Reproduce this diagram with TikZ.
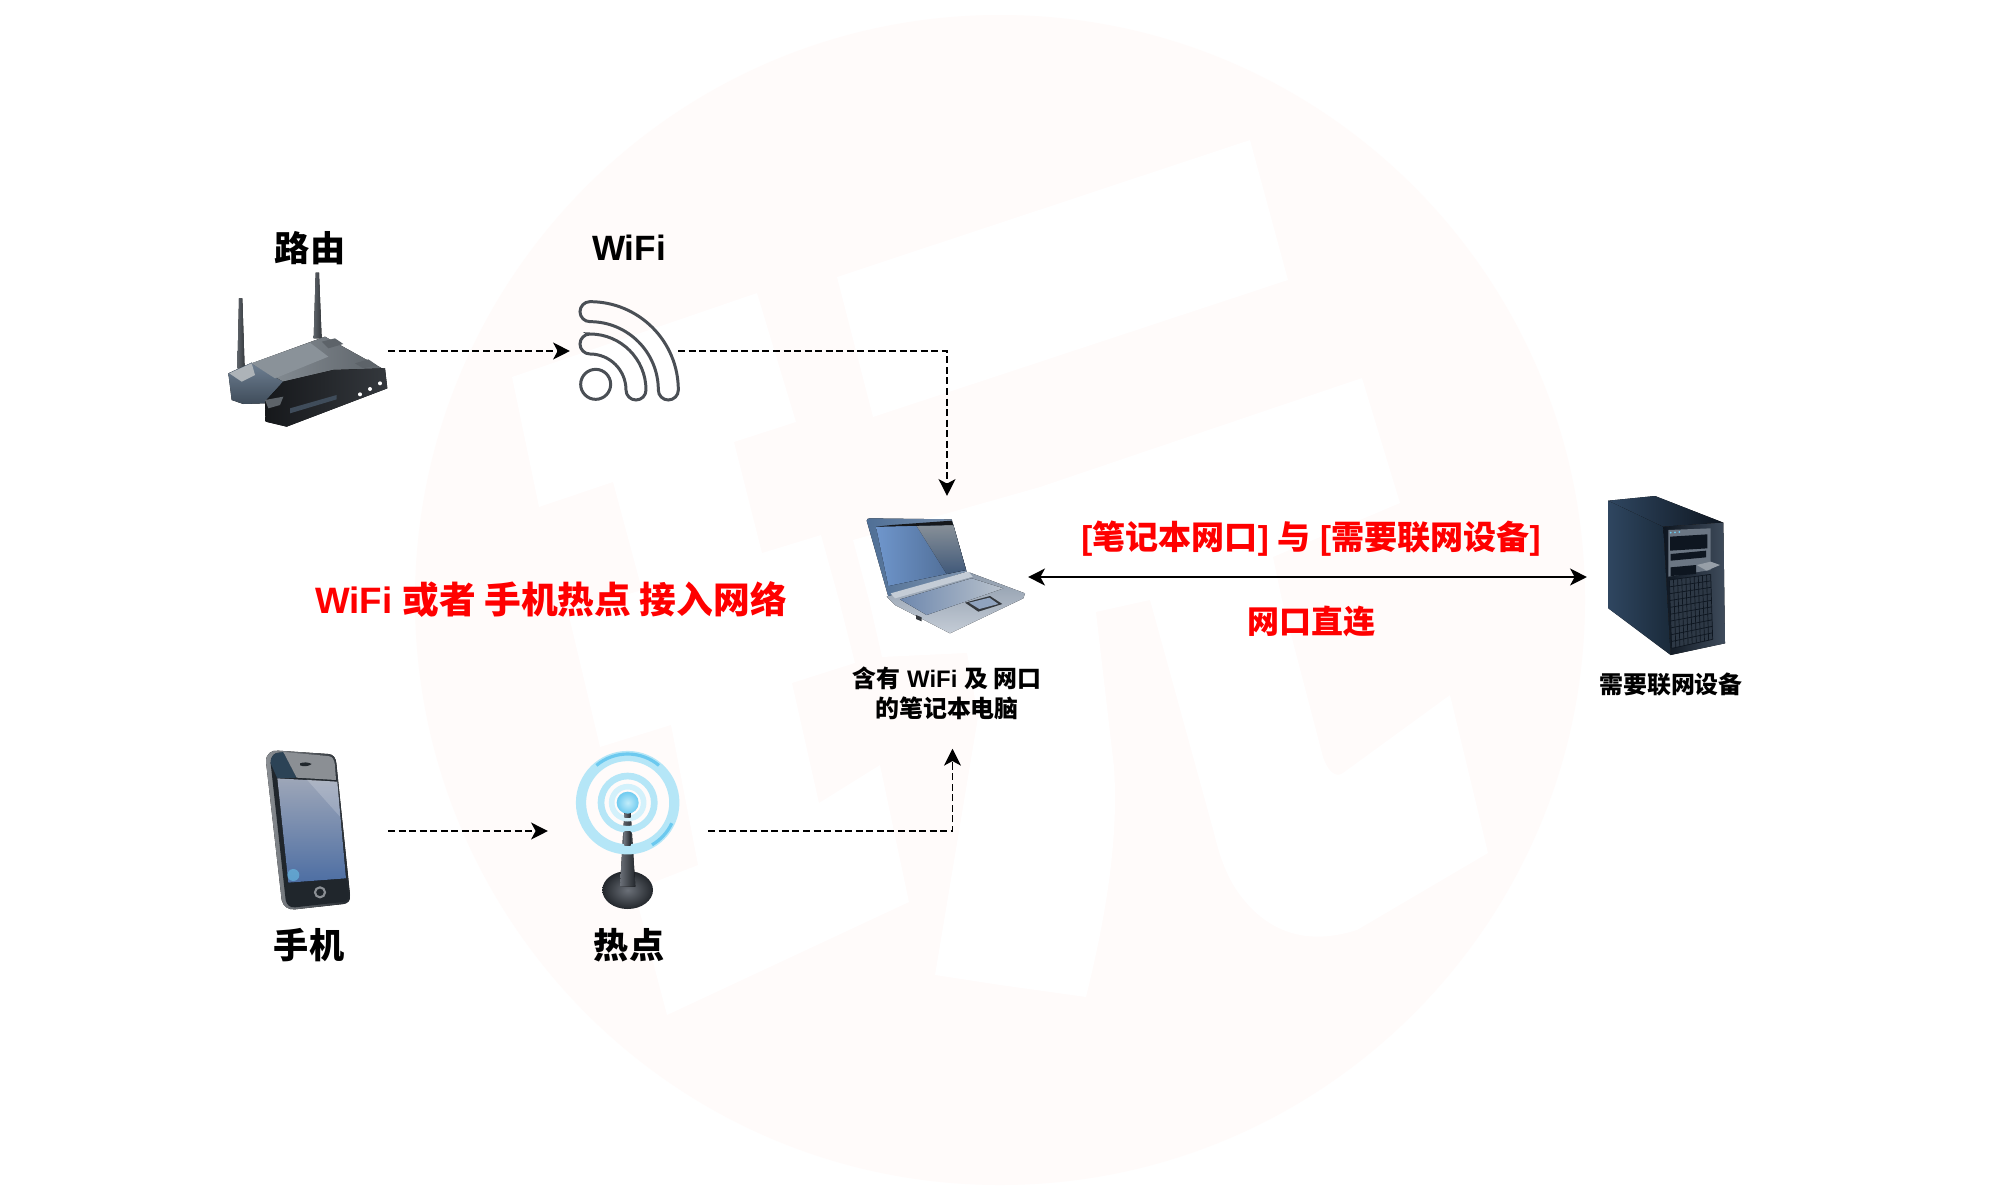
\documentclass[tikz,border=0pt]{standalone}
\usepackage{fontspec}
\usetikzlibrary{arrows.meta,calc,shadings}
\setmainfont{Liberation Sans}[BoldFont={Liberation Sans Bold}]
\newfontfamily\cjkfont{Noto Sans CJK SC}
\newcommand{\zh}[1]{{\cjkfont\bfseries #1}}
\definecolor{wmark}{HTML}{FFFBFA}
\definecolor{wifiline}{HTML}{4A4F55}
\definecolor{steelA}{HTML}{6F8093}
\definecolor{steelB}{HTML}{3F4C5A}
\definecolor{steelC}{HTML}{8A9299}
\definecolor{steelD}{HTML}{5D6369}
\definecolor{inkA}{HTML}{16181B}
\definecolor{inkB}{HTML}{34383D}
\definecolor{lidA}{HTML}{4F6F96}
\definecolor{lidB}{HTML}{7E93AD}
\definecolor{scrA}{HTML}{6F96CC}
\definecolor{scrB}{HTML}{4A668C}
\definecolor{scrC}{HTML}{9DA6AE}
\definecolor{baseA}{HTML}{C4CCD6}
\definecolor{baseB}{HTML}{8E9BAB}
\definecolor{keyA}{HTML}{6E88AE}
\definecolor{keyB}{HTML}{B9C2CC}
\definecolor{srvA}{HTML}{2F4660}
\definecolor{srvB}{HTML}{1A2A3A}
\definecolor{srvC}{HTML}{0E1620}
\definecolor{srvD}{HTML}{3F4C5C}
\definecolor{srvE}{HTML}{6B7683}
\definecolor{srvF}{HTML}{2D3845}
\definecolor{phA}{HTML}{8B8F94}
\definecolor{phB}{HTML}{20262C}
\definecolor{phC}{HTML}{9DA6B8}
\definecolor{phD}{HTML}{4D6EA3}
\definecolor{phE}{HTML}{2C4356}
\definecolor{ringA}{HTML}{B5E6F7}
\definecolor{ringB}{HTML}{6CC9EF}
\definecolor{ringC}{HTML}{D3F1FB}
\definecolor{ballA}{HTML}{C2ECFA}
\definecolor{ballB}{HTML}{6FCBF0}
\definecolor{stemA}{HTML}{6B7078}
\definecolor{stemB}{HTML}{23272C}
\tikzset{
  iconbox/.style={inner sep=0pt,outer sep=0pt},
  bigtext/.style={font=\bfseries\fontsize{10}{12}\selectfont,text=black,inner sep=0pt},
  smalltext/.style={font=\bfseries\fontsize{6.8}{8.5}\selectfont,text=black,inner sep=0pt,align=center},
  redbig/.style={font=\bfseries\fontsize{10.45}{12}\selectfont,text=red,inner sep=0pt},
  redmid/.style={font=\bfseries\fontsize{9.4}{11}\selectfont,text=red,inner sep=0pt},
  redlow/.style={font=\bfseries\fontsize{9.1}{11}\selectfont,text=red,inner sep=0pt},
  dashlink/.style={draw=black,line width=0.42pt,dash pattern=on 2pt off 1pt,-{Stealth[length=4.8pt,width=4.8pt,inset=1.3pt,sep=0pt]}},
  solidlink/.style={draw=black,line width=0.5pt,{Stealth[length=4.8pt,width=4.8pt,inset=1.3pt]}-{Stealth[length=4.8pt,width=4.8pt,inset=1.3pt]}},
  wifistroke/.style={draw=wifiline,line width=0.85pt,fill=none}
}
\begin{document}
\begin{tikzpicture}[x=0.01cm,y=-0.01cm]
\useasboundingbox (0,0) rectangle (2000,1200);
\fill[white] (0,0) rectangle (2000,1200);
% ---- watermark
\fill[wmark] (1000,600) circle (585);
\fill[white] (837,277) -- (1250,140) -- (1288,280) -- (873,417) -- cycle;
\fill[white] (512,377) -- (757,293) -- (796,422) -- (734,442) -- (762,553) -- (821,535) -- (839,600) -- (855,663) -- (792,683) -- (819,803) -- (880,765) -- (909,902) -- (667,1015) -- (634,890) -- (698,865) -- (671,725) -- (600,747) -- (568,612) -- (642,590) -- (613,482) -- (539,507) -- cycle;
\fill[white] (853,540) -- (1040,487) -- (1362,378) -- (1400,503) -- (1273,557) -- (1282,600) -- (1323,757)
  .. controls (1328,772) and (1336,778) .. (1343,773) -- (1450,695) -- (1488,853) -- (1357,930)
  .. controls (1310,945) and (1270,935) .. (1240,895) .. controls (1225,875) and (1218,850) .. (1214,833)
  -- (1150,600) -- (1096,612) -- (1114,767) .. controls (1118,830) and (1110,900) .. (1086,997)
  -- (1000,985) -- (935,975) -- (978,717) -- (967,653) -- (882,657) -- (869,600) -- cycle;
% ---- router
\begin{scope}[shift={(200,200)},scale=1/3]
  \fill[left color=steelD,right color=inkB] (117,295) -- (127,295) -- (134,505) -- (112,505) -- cycle;
  \fill[left color=steelD,right color=inkB] (347,218) -- (357,218) -- (365,415) -- (341,415) -- cycle;
  \fill[top color=steelA,bottom color=steelB] (85,520) -- (155,488) -- (255,545) -- (195,610) -- (130,612) -- (95,600) -- cycle;
  \fill[steelC!70!white] (88,520) -- (155,490) -- (165,525) -- (125,545) -- cycle;
  \fill[left color=steelC,right color=steelD] (155,490) -- (375,410) -- (555,510) -- (400,565) -- (250,545) -- cycle;
  \fill[steelC] (155,490) -- (330,428) -- (385,470) -- (225,535) -- cycle;
  \fill[steelD] (365,425) -- (405,415) -- (430,432) -- (385,445) -- cycle;
  \fill[left color=inkA,right color=inkB] (195,605) -- (250,545) -- (400,510) -- (555,505) -- (562,565) -- (260,680) -- (197,665) -- cycle;
  \fill[steelD] (195,600) -- (250,590) -- (240,615) -- (205,625) -- cycle;
  \fill[steelB] (270,625) -- (410,585) -- (410,598) -- (270,640) -- cycle;
  \fill[steelD] (465,490) -- (505,478) -- (530,495) -- (490,505) -- cycle;
  \fill[white] (480,583) circle (6) (510,567) circle (6) (540,550) circle (6);
\end{scope}
\node[iconbox,minimum width=1.82cm,minimum height=1.4cm] (router) at (297,351) {};
\node[bigtext] (routertext) at (310,248) {\zh{路由}};
% ---- wifi icon
\begin{scope}[shift={(200,200)},scale=1/3]
  \draw[wifistroke] (1187,553) circle (45);
  \draw[wifistroke] (1170,305) arc[start angle=-90,end angle=0,radius=265] arc[start angle=0,end angle=180,radius=30] arc[start angle=0,end angle=-90,radius=205] arc[start angle=90,end angle=270,radius=30] -- cycle;
  \draw[wifistroke] (1170,402) arc[start angle=-90,end angle=0,radius=168] arc[start angle=0,end angle=180,radius=30] arc[start angle=0,end angle=-90,radius=108] arc[start angle=90,end angle=270,radius=30] -- cycle;
\end{scope}
\node[iconbox,minimum width=1.08cm,minimum height=1.2cm] (wifi) at (624,351) {};
\node[bigtext] (wifitext) at (629,248) {WiFi};
% ---- laptop
\begin{scope}[shift={(820,480)},scale=1/3]
  \fill[left color=lidA,right color=lidB] (140,122) .. controls (140,116) and (145,115) .. (150,115) -- (395,118) -- (440,275) -- (205,350) -- cycle;
  \fill[left color=scrA,right color=scrB] (168,140) -- (400,135) -- (438,270) -- (205,318) -- cycle;
  \fill[top color=scrC,bottom color=scrB,opacity=.85] (290,138) -- (400,135) -- (438,270) -- (380,282) -- cycle;
  \fill[inkA] (215,135) -- (395,122) -- (400,135) -- (168,140) -- cycle;
  \fill[top color=baseB,bottom color=baseA] (200,350) -- (450,278) -- (615,340) -- (610,355) -- (390,460) -- (225,375) -- cycle;
  \fill[baseA] (212,340) -- (445,275) -- (458,290) -- (225,355) -- cycle;
  \fill[left color=keyA,right color=keyB] (240,358) -- (455,295) -- (550,325) -- (320,405) -- cycle;
  \fill[inkB] (435,368) -- (510,348) -- (547,372) -- (475,395) -- cycle;
  \fill[keyA!60!baseA] (447,368) -- (508,353) -- (535,372) -- (478,387) -- cycle;
  \fill[inkB] (288,405) -- (305,412) -- (305,424) -- (288,417) -- cycle;
\end{scope}
\node[iconbox,minimum width=1.62cm,minimum height=1.62cm] (laptop) at (947,577) {};
\node[smalltext,minimum height=1.1cm] (laptoptext) at (947,693) {\zh{含有} WiFi \zh{及 网口}\\\zh{的笔记本电脑}};
% ---- server
\begin{scope}[shift={(1580,480)},scale=1/3]
  \fill[left color=srvA,right color=srvB] (85,62) -- (250,140) -- (272,525) -- (85,385) -- cycle;
  \fill[left color=srvA,right color=srvC] (85,62) -- (225,48) -- (430,128) -- (250,140) -- cycle;
  \fill[left color=srvC,right color=srvD] (250,140) -- (430,128) -- (435,490) -- (272,525) -- cycle;
  \fill[srvE] (265,150) -- (392,145) -- (392,270) -- (265,290) -- cycle;
  \fill[srvC] (270,170) -- (382,163) -- (382,205) -- (270,212) -- cycle;
  \fill[srvC] (272,222) -- (378,212) -- (378,232) -- (272,242) -- cycle;
  \fill[srvC] (272,262) -- (348,255) -- (348,282) -- (272,288) -- cycle;
  \fill[srvE!70!white] (350,255) -- (392,245) -- (420,255) -- (380,272) -- cycle;
  \fill[ringB] (272,158) circle (3) (285,157) circle (3) (298,156) circle (3);
  \fill[srvF] (268,300) -- (392,283) -- (398,478) -- (275,505) -- cycle;
  \foreach \t in {0,0.1,...,1.01}{
    \draw[srvC,line width=0.2pt] ($(268,300)!\t!(275,505)$) -- ($(392,283)!\t!(398,478)$);
    \draw[srvC,line width=0.2pt] ($(268,300)!\t!(392,283)$) -- ($(275,505)!\t!(398,478)$);
  }
\end{scope}
\node[iconbox,minimum width=1.56cm,minimum height=1.7cm] (server) at (1665,577) {};
\node[smalltext] (servertext) at (1671,684) {\zh{需要联网设备}};
% ---- phone
\begin{scope}[shift={(240,730)},scale=1/3]
  \fill[left color=phA,right color=phB] (78,95) .. controls (78,70) and (95,60) .. (115,62) -- (265,72) .. controls (280,73) and (288,85) .. (289,100) -- (330,495) .. controls (332,510) and (325,520) .. (310,522) -- (165,538) .. controls (145,540) and (130,530) .. (125,510) -- cycle;
  \fill[phB] (92,100) .. controls (92,75) and (105,68) .. (118,68) -- (265,78) .. controls (278,79) and (283,90) .. (285,105) -- (325,495) .. controls (326,508) and (320,514) .. (308,516) -- (165,532) .. controls (150,533) and (140,525) .. (137,510) -- cycle;
  \fill[phE] (92,100) .. controls (92,75) and (105,68) .. (118,68) -- (130,66) -- (170,143) -- (112,145) -- cycle;
  \fill[phA] (130,66) -- (265,78) .. controls (278,79) and (283,90) .. (285,105) -- (288,150) -- (170,143) -- cycle;
  \fill[phB] (180,100) .. controls (190,96) and (205,96) .. (215,102) .. controls (205,110) and (190,110) .. (180,106) -- cycle;
  \fill[top color=phC,bottom color=phD] (112,145) -- (292,155) -- (318,445) -- (145,458) -- cycle;
  \fill[white,opacity=.18] (200,148) -- (292,155) -- (300,260) -- cycle;
  \fill[ringB,opacity=.55] (160,435) circle (18);
  \draw[phA,line width=0.6pt] (240,487) circle (15);
\end{scope}
\node[iconbox,minimum width=1.24cm,minimum height=1.7cm] (phone) at (326,831) {};
\node[bigtext] (phonetext) at (309,945) {\zh{手机}};
% ---- hotspot
\begin{scope}[shift={(240,730)},scale=1/3]
  \shade[inner color=stemA,outer color=stemB] (1163,480) ellipse [x radius=76,y radius=57];
  \fill[left color=stemA,right color=stemB] (1153,250) -- (1172,250) -- (1186,470) -- (1140,470) -- cycle;
  \draw[ringA,line width=2.9pt] (1163,218) circle (140);
  \draw[ringB,line width=0.9pt] (1163,218) +(-130:146) arc[start angle=-130,end angle=-50,radius=146];
  \draw[ringB,line width=0.9pt] (1163,218) +(25:146) arc[start angle=25,end angle=60,radius=146];
  \draw[ringA,line width=1.9pt] (1163,218) circle (80);
  \draw[ringC,line width=1.6pt] (1163,218) circle (48);
  \fill[left color=stemA,right color=stemB] (1153,250) rectangle (1172,262);
  \fill[left color=stemA,right color=stemB] (1153,305) rectangle (1172,345);
  \shade[inner color=ballA,outer color=ballB] (1163,218) circle (33);
\end{scope}
\node[iconbox,minimum width=1.6cm,minimum height=1.6cm] (hotspot) at (628,831) {};
\node[bigtext] (hotspottext) at (629,945) {\zh{热点}};
% ---- red captions
\node[redbig] (leftnote) at (551,599) {WiFi \zh{或者 手机热点 接入网络}};
\node[redmid] (topnote) at (1311,539) {[\zh{笔记本网口}] \zh{与} [\zh{需要联网设备}]};
\node[redlow] (botnote) at (1311,621) {\zh{网口直连}};
% ---- connectors
\draw[dashlink] (router.east) -- (wifi.west);
\draw[dashlink] (wifi.east) -| (laptop.north);
\draw[dashlink] (phone.east) -- (hotspot.west);
\draw[dashlink] (hotspot.east) -| ([xshift=1.56pt]laptoptext.south);
\draw[solidlink] (laptop.east) -- (server.west);
\end{tikzpicture}
\end{document}
